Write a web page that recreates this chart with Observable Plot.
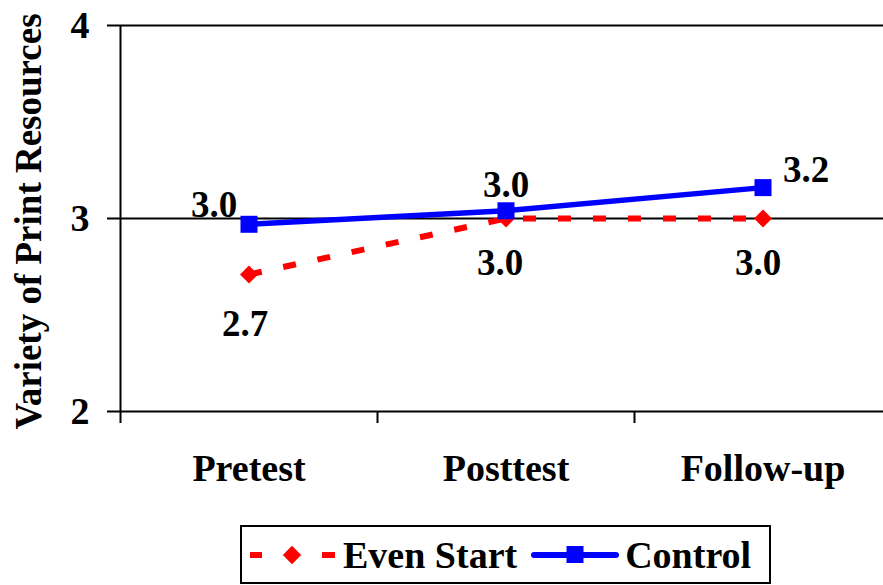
<!DOCTYPE html>
<html>
<head>
<meta charset="utf-8">
<script src="https://cdn.jsdelivr.net/npm/d3@7"></script>
<script src="https://cdn.jsdelivr.net/npm/@observablehq/plot@0.6"></script>
<style>
  html, body { margin: 0; padding: 0; background: #fff; }
  body { width: 883px; height: 585px; position: relative; overflow: hidden;
         font-family: "Liberation Serif", "Times New Roman", serif; font-weight: bold; }
  #legend { position: absolute; left: 240px; top: 525px; width: 531px; height: 59px;
            box-sizing: border-box; border: 2px solid #000; background: #fff;
            display: flex; align-items: center; font-size: 38px; }
  #legend .item { display: flex; align-items: center; }
  #legend svg { display: block; }
</style>
</head>
<body>
<div id="chart"></div>
<div id="legend"></div>
<script>
// ---- data ----
const categories = ["Pretest", "Posttest", "Follow-up"];
const seriesNames = ["Even Start", "Control"];
const evenStart = [2.71, 3.00, 3.00];
const control = [2.97, 3.04, 3.16];
const yTicks = [2, 3, 4];
const yLabel = "Variety of Print Resources";

// ---- styling / layout (not data) ----
const colors = {"Even Start": "#ff0000", "Control": "#0000ff"};
const labelOffsets = {
  "Control": [{dx: -35, dy: -19}, {dx: 0, dy: -26}, {dx: 43, dy: -17}],
  "Even Start": [{dx: -4, dy: 50}, {dx: -6, dy: 45}, {dx: -5, dy: 45}]
};

const rows = [];
categories.forEach((c, i) => {
  rows.push({series: "Even Start", i, category: c, value: evenStart[i]});
  rows.push({series: "Control", i, category: c, value: control[i]});
});
const esRows = rows.filter(d => d.series === "Even Start");
const ctRows = rows.filter(d => d.series === "Control");

const font = "'Liberation Serif', 'Times New Roman', serif";
const boundaries = categories.map((c, i) => i - 0.5);

const labelMarks = rows.map(d => Plot.text([d], {
  x: "i", y: "value", text: r => r.value.toFixed(1),
  dx: labelOffsets[d.series][d.i].dx, dy: labelOffsets[d.series][d.i].dy,
  fontSize: 37, fontWeight: "bold", fill: "#000"
}));

const chart = Plot.plot({
  width: 883,
  height: 520,
  marginTop: 25,
  marginBottom: 109,
  marginLeft: 120,
  marginRight: -8,
  style: {fontFamily: font, fontWeight: "bold", background: "#fff", overflow: "visible"},
  x: {domain: [-0.5, categories.length - 0.5]},
  y: {domain: [yTicks[0], yTicks[yTicks.length - 1]]},
  marks: [
    Plot.ruleY(yTicks, {stroke: "#000", strokeWidth: 2}),
    Plot.ruleX([boundaries[0]], {stroke: "#000", strokeWidth: 2}),
    Plot.axisY({ticks: yTicks, tickSize: 13, tickPadding: 18, tickFormat: d => String(d),
      fontSize: 38, fontWeight: "bold", label: null, strokeWidth: 2, stroke: "#000"}),
    Plot.axisX({ticks: boundaries, tickSize: 12, tickFormat: () => "", label: null,
      strokeWidth: 2, stroke: "#000"}),
    Plot.axisX({ticks: categories.map((c, i) => i), tickSize: 0, tickPadding: 43,
      tickFormat: i => categories[i], fontSize: 38, fontWeight: "bold", label: null}),
    Plot.text([yLabel], {frameAnchor: "left", textAnchor: "middle", rotate: -90, dx: -91, dy: 3,
      fontSize: 37, fontWeight: "bold", fill: "#000"}),
    Plot.line(esRows, {x: "i", y: "value", stroke: colors["Even Start"], strokeWidth: 6,
      strokeDasharray: "13,22", strokeLinecap: "butt"}),
    Plot.dot(esRows, {x: "i", y: "value", symbol: "square", r: 7.2, rotate: 45,
      fill: colors["Even Start"], stroke: "none"}),
    Plot.line(ctRows, {x: "i", y: "value", stroke: colors["Control"], strokeWidth: 5.5}),
    Plot.dot(ctRows, {x: "i", y: "value", symbol: "square", r: 9.6,
      fill: colors["Control"], stroke: "none"}),
    ...labelMarks
  ]
});
document.getElementById("chart").appendChild(chart);

// ---- legend ----
const legend = document.getElementById("legend");
legend.innerHTML = `
  <div class="item" style="margin-left:8px">
    <svg width="87" height="30">
      <line x1="0" y1="15" x2="12" y2="15" stroke="${colors["Even Start"]}" stroke-width="6"/>
      <rect x="35.5" y="8.5" width="13" height="13" fill="${colors["Even Start"]}" transform="rotate(45 42 15)"/>
      <line x1="72" y1="15" x2="85" y2="15" stroke="${colors["Even Start"]}" stroke-width="6"/>
    </svg>
    <span style="margin-left:6px">${seriesNames[0]}</span>
  </div>
  <div class="item" style="margin-left:14px">
    <svg width="88" height="30">
      <line x1="3" y1="15" x2="85" y2="15" stroke="${colors["Control"]}" stroke-width="6" stroke-linecap="round"/>
      <rect x="35.5" y="6" width="17" height="17" fill="${colors["Control"]}"/>
    </svg>
    <span style="margin-left:6px">${seriesNames[1]}</span>
  </div>`;
</script>
</body>
</html>
